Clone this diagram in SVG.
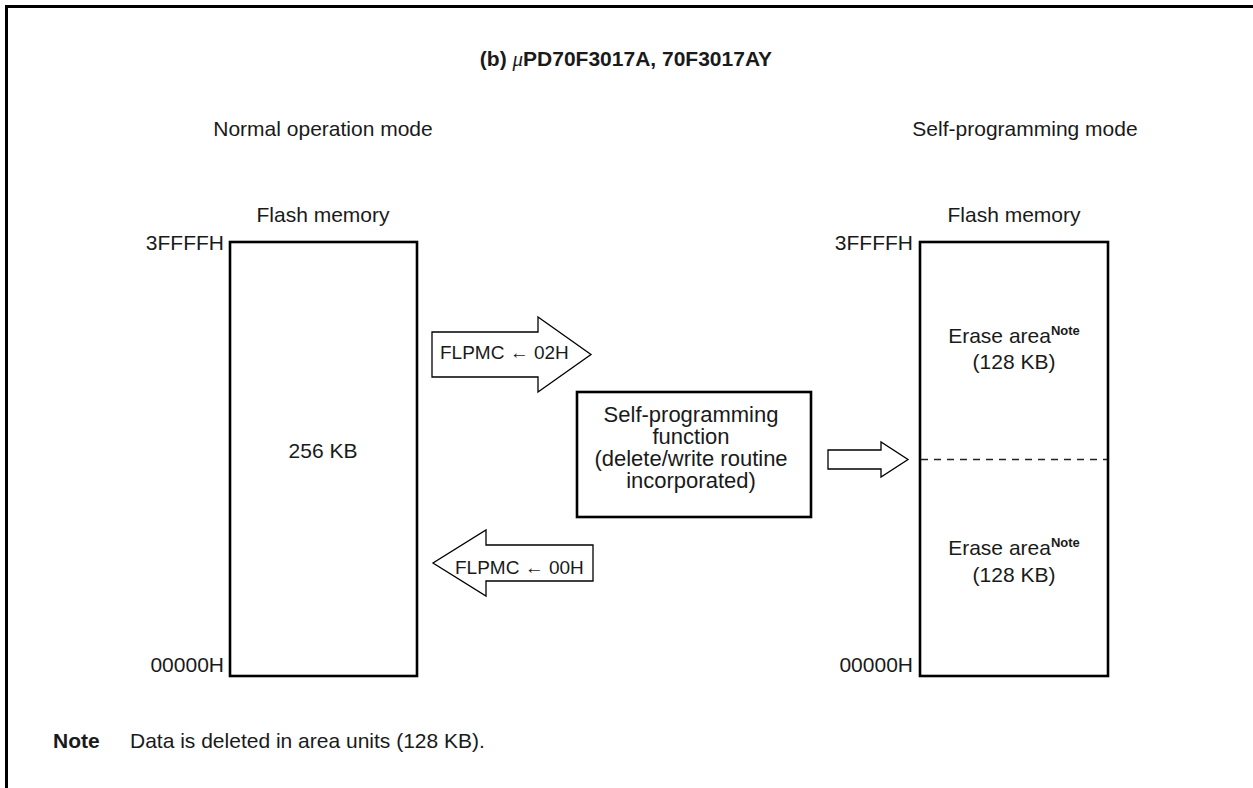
<svg xmlns="http://www.w3.org/2000/svg" width="1253" height="788" viewBox="0 0 1253 788">
<style>
text{font-family:"Liberation Sans",Arial,sans-serif;fill:#1a1a1a;font-size:21px}
.c{text-anchor:middle}
.e{text-anchor:end}
.b{font-weight:bold}
.mem{fill:#fff;stroke:#000;stroke-width:2.6}
.arr{fill:#fff;stroke:#000;stroke-width:1.3;stroke-linejoin:miter}
.sup{font-size:13px;font-weight:bold}
.lbl{font-size:19px}
.fn{font-size:22px}
</style>
<rect width="1253" height="788" fill="#fff"/>
<path d="M6.5,788 V6.5 H1253" fill="none" stroke="#000" stroke-width="3"/>
<text class="c b" x="626" y="66">(b)  <tspan font-style="italic" font-weight="normal" font-family="'Liberation Serif',serif">μ</tspan>PD70F3017A, 70F3017AY</text>
<text class="c" x="323" y="136">Normal operation mode</text>
<text class="c" x="1025" y="136">Self-programming mode</text>
<g id="flash-normal">
<text class="c" x="323" y="222">Flash memory</text>
<rect class="mem" x="230" y="242" width="187" height="434"/>
<text class="e" x="224" y="250">3FFFFH</text>
<text class="e" x="224" y="672">00000H</text>
<text class="c" x="323" y="458">256 KB</text>
</g>
<g id="flash-self">
<text class="c" x="1014" y="222">Flash memory</text>
<rect class="mem" x="920" y="242" width="188" height="434"/>
<text class="e" x="913" y="250">3FFFFH</text>
<text class="e" x="913" y="672">00000H</text>
<line x1="921" y1="459.5" x2="1107" y2="459.5" stroke="#222" stroke-width="1.4" stroke-dasharray="7,6"/>
<text class="c" x="1014" y="343">Erase area<tspan class="sup" dy="-8">Note</tspan></text>
<text class="c" x="1014" y="369">(128 KB)</text>
<text class="c" x="1014" y="555">Erase area<tspan class="sup" dy="-8">Note</tspan></text>
<text class="c" x="1014" y="582">(128 KB)</text>
</g>
<g id="self-prog-function">
<rect x="577" y="392" width="234" height="125" fill="#fff" stroke="#000" stroke-width="2.6"/>
<text class="c fn" x="691" y="422">Self-programming</text>
<text class="c fn" x="691" y="444">function</text>
<text class="c fn" x="691" y="466">(delete/write routine</text>
<text class="c fn" x="691" y="488">incorporated)</text>
</g>
<g id="connectors">
<g id="arrow-to-self">
<path class="arr" d="M432,332 H538 V317 L591,354.5 L538,392 V377 H432 Z"/>
<text class="lbl" x="440" y="359">FLPMC ← 02H</text>
</g>
<g id="arrow-to-normal">
<path class="arr" d="M593,545 H486 V530 L433,563 L486,596 V581 H593 Z"/>
<text class="lbl" x="455" y="574">FLPMC ← 00H</text>
</g>
<path class="arr" d="M828,450 H881 V442 L908,459.5 L881,477 V469 H828 Z"/>
</g>
<text class="b" x="53" y="748">Note</text>
<text x="130" y="748">Data is deleted in area units (128 KB).</text>
</svg>
